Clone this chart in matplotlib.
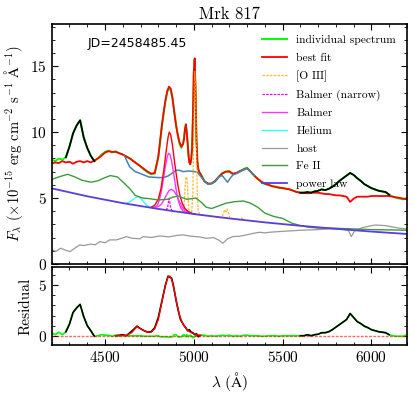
import numpy as np
import matplotlib
matplotlib.use("Agg")
import matplotlib.pyplot as plt
from matplotlib.ticker import MultipleLocator

plt.rcParams['font.family'] = 'serif'
plt.rcParams['font.serif'] = ['cmr10', 'DejaVu Serif']
plt.rcParams['mathtext.fontset'] = 'cm'
plt.rcParams['axes.formatter.use_mathtext'] = True
plt.rcParams['axes.unicode_minus'] = False

# wavelength grid of the spectrum (Angstrom)
wave = np.concatenate([np.arange(4200, 4781, 20), np.arange(4790, 4941, 10),
                       np.arange(4945, 5031, 5), [5040], np.arange(5060, 6201, 20)])

# observed flux
flux = [7.9, 7.8, 8.0, 7.9, 8.1, 8.9, 9.9, 10.5, 10.9, 9.6, 8.8, 8.2, 7.8, 8.0, 8.3,
        8.5, 8.6, 8.45, 8.55, 8.4, 8.3, 8.15, 8.0, 7.8, 7.6, 7.4, 7.15, 6.95, 6.8, 6.85,
        7.5, 8.1, 9.2, 10.4, 11.4, 12.3, 13.0, 13.3, 13.2, 12.5, 11.6, 10.6, 9.7, 9.1, 8.8, 9.2,
        9.6, 10.2, 10.5, 10.1, 9.2, 8.2, 7.7, 7.6, 7.9, 8.6, 11.0, 14.5, 15.5, 13.0, 9.5, 7.8, 7.2, 7.0,
        6.8,
        6.3, 6.05, 6.1, 6.25, 6.6, 6.9, 7.0, 7.05, 6.8, 6.9, 7.0, 7.2, 7.3, 7.0, 6.7, 6.45, 6.2, 6.05,
        6.0, 5.9, 5.85, 5.75, 5.75, 5.7, 5.65, 5.55, 5.45, 5.4, 5.4, 5.45, 5.4, 5.5, 5.55, 5.65,
        5.6, 5.7, 5.85, 6.05, 6.3, 6.5, 6.7, 6.9, 6.75, 6.5, 6.3, 6.05, 5.9, 5.75, 5.65, 5.55,
        5.5, 5.45, 5.25, 5.1, 5.0, 4.95, 4.9, 5.0]

# best fit
fit = [7.6, 7.7, 7.65, 7.8, 7.7, 7.75, 7.6, 7.75, 7.8, 7.7, 7.8, 7.7, 7.85, 8.0, 8.2,
       8.45, 8.55, 8.5, 8.5, 8.4, 8.3, 8.15, 8.0, 7.8, 7.6, 7.4, 7.2, 7.0, 6.85, 6.9,
       7.5, 8.1, 9.3, 10.5, 11.5, 12.4, 13.1, 13.45, 13.3, 12.6, 11.5, 10.5, 9.8, 9.2, 8.9, 9.1,
       9.5, 10.2, 10.6, 10.0, 9.2, 8.3, 7.7, 7.55, 7.9, 8.7, 11.2, 14.6, 15.6, 13.0, 9.4, 7.8, 7.2, 7.0,
       6.75,
       6.25, 6.1, 6.1, 6.3, 6.6, 6.85, 7.0, 7.0, 6.85, 6.9, 7.05, 7.15, 7.25, 7.0, 6.7, 6.45, 6.25, 6.1,
       6.0, 5.9, 5.85, 5.8, 5.75, 5.7, 5.65, 5.55, 5.45, 5.4, 5.4, 5.35, 5.4, 5.4, 5.4, 5.35,
       5.3, 5.3, 5.25, 5.2, 5.2, 5.15, 5.1, 4.7, 4.95, 5.1, 5.1, 5.1, 5.1, 5.15, 5.15, 5.15,
       5.15, 5.15, 5.15, 5.1, 5.05, 5.0, 4.95, 4.9]

# masked windows (drawn in black)
masks = [(4265, 4445), (5590, 6105)]

# spectrum with broad lines removed (steel blue)
sub_wave = [4610, 4625, 4640, 4670, 4700, 4745, 4800, 4830, 4855, 4880, 4900, 4920, 4940, 4970,
            5005, 5020, 5035, 5050, 5065, 5080, 5100, 5120, 5140, 5160, 5175, 5190, 5205,
            5220, 5240, 5260, 5280, 5300, 5320, 5340]
sub_flux = [8.2, 7.75, 7.35, 7.0, 6.85, 6.6, 6.55, 6.55, 6.67, 6.9, 7.1, 7.1, 7.0, 7.05,
            7.0, 6.95, 6.7, 6.45, 6.2, 6.05, 6.1, 6.25, 6.6, 6.7, 6.45, 6.2, 6.5,
            6.75, 6.85, 7.0, 7.15, 7.25, 7.0, 6.7]

# [O III] (plus weak lines), on top of continuum
o3_wave = [4930, 4945, 4950, 4955, 4959, 4963, 4968, 4973, 4980, 4988, 4995, 5000, 5005, 5009,
           5014, 5019, 5025, 5035, 5150, 5160, 5168, 5175, 5182, 5188, 5195, 5202, 5215,
           5260, 5268, 5275, 5285]
o3_flux = [3.88, 4.3, 5.6, 6.5, 6.6, 6.3, 5.0, 4.1, 3.85, 3.9, 5.5, 10.5, 14.6, 13.8,
           9.5, 5.5, 4.0, 3.74, 3.5, 3.6, 3.9, 4.1, 3.95, 4.15, 3.9, 3.5, 3.43,
           3.33, 3.5, 3.42, 3.31]

# narrow Balmer
bn_wave = [4845, 4853, 4858, 4861, 4864, 4869, 4877]
bn_flux = [4.06, 4.3, 4.8, 4.95, 4.8, 4.3, 4.03]

# broad Balmer components
b1_wave = [4770, 4790, 4800, 4810, 4820, 4830, 4840, 4850, 4858, 4866, 4875, 4885, 4895,
           4905, 4915, 4925, 4940, 4960]
b1_flux = [4.23, 4.35, 4.6, 5.05, 5.7, 6.55, 7.4, 8.1, 8.4, 8.3, 7.8, 7.0, 6.1,
           5.3, 4.7, 4.3, 4.0, 3.87]
b2_wave = [4760, 4780, 4800, 4815, 4830, 4845, 4860, 4874, 4890, 4905, 4920, 4935, 4950,
           4970, 4990, 5010]
b2_flux = [4.3, 4.3, 4.35, 4.5, 4.8, 5.2, 5.55, 5.66, 5.5, 5.15, 4.7, 4.3, 4.05,
           3.9, 3.82, 3.76]
bsum_wave = [4760, 4780, 4800, 4815, 4830, 4845, 4855, 4862, 4870, 4880, 4890, 4900, 4910,
             4920, 4935, 4950, 4970, 4990, 5010]
bsum_flux = [4.3, 4.45, 4.9, 5.7, 7.0, 8.6, 9.6, 10.0, 9.8, 9.0, 7.9, 6.9, 6.0,
             5.3, 4.6, 4.2, 3.95, 3.83, 3.77]

# helium
he_wave = [4600, 4620, 4640, 4660, 4675, 4687, 4700, 4715, 4735, 4760, 4780]
he_flux = [4.62, 4.6, 4.72, 4.9, 5.05, 5.1, 5.0, 4.75, 4.45, 4.27, 4.22]

# host galaxy
host_wave = [4200, 4225, 4250, 4275, 4303, 4331, 4359, 4380, 4420, 4445, 4471, 4500, 4527,
             4565, 4595, 4621, 4650, 4696, 4715, 4760, 4808, 4860, 4900, 4939, 4980, 5030,
             5071, 5110, 5140, 5164, 5190, 5220, 5260, 5296, 5330, 5370, 5400, 5427, 5480,
             5540, 5600, 5651, 5700, 5764, 5830, 5870, 5887, 5905, 5950, 6000, 6025, 6080,
             6120, 6160, 6200]
host_flux = [1.05, 0.95, 1.19, 1.05, 0.93, 1.2, 1.44, 1.39, 1.5, 1.45, 1.69, 1.6, 1.82,
             1.82, 1.95, 2.07, 1.95, 1.9, 2.07, 2.0, 2.12, 2.05, 2.15, 2.2, 2.1, 2.05,
             1.94, 2.0, 1.8, 1.57, 1.9, 2.07, 2.1, 2.2, 2.3, 2.4, 2.35, 2.4, 2.45,
             2.5, 2.55, 2.58, 2.6, 2.65, 2.65, 2.55, 2.07, 2.5, 2.75, 2.9, 2.95, 2.9,
             2.8, 2.7, 2.65]

# Fe II (on top of power law)
fe_wave = [4200, 4240, 4290, 4330, 4370, 4420, 4460, 4500, 4530, 4570, 4610, 4640, 4670,
           4710, 4750, 4800, 4850, 4880, 4910, 4940, 4960, 4990, 5010, 5040, 5070, 5100,
           5140, 5180, 5230, 5280, 5320, 5360, 5400, 5450, 5500, 5550, 5600, 5650, 5700,
           5800, 5900, 6000, 6100, 6200]
fe_flux = [6.4, 6.6, 6.8, 6.6, 6.35, 6.2, 6.3, 6.55, 6.7, 6.6, 6.1, 5.7, 5.2,
           5.0, 4.95, 4.85, 4.9, 5.05, 5.15, 5.0, 4.9, 4.95, 5.0, 4.7, 4.3, 4.2,
           4.4, 4.6, 4.72, 4.77, 4.6, 4.3, 3.85, 3.6, 3.45, 3.1, 2.9, 2.78, 2.72,
           2.7, 2.65, 2.6, 2.58, 2.55]

# power law
pl_wave = [4200, 4400, 4600, 4800, 5000, 5200, 5400, 5600, 5800, 6000, 6200]
pl_flux = [5.73, 5.13, 4.61, 4.17, 3.78, 3.45, 3.15, 2.89, 2.66, 2.45, 2.27]

# residual panel: broad-line residual and its model
rb_wave = [4560, 4580, 4600, 4620, 4640, 4660, 4680, 4700, 4720, 4740, 4760, 4780, 4800,
           4820, 4840, 4855, 4865, 4875, 4885, 4895, 4905, 4915, 4925, 4935, 4945, 4955,
           4965, 4975, 4985, 4995, 5005, 5015, 5025, 5035]
rb_flux = [0.0, 0.05, 0.1, 0.0, 0.3, 0.6, 0.95, 0.7, 0.5, 0.35, 0.4, 0.8, 1.8,
           3.4, 5.0, 5.9, 5.8, 5.7, 5.0, 4.0, 3.1, 2.3, 1.6, 1.3, 1.0, 0.8,
           0.5, 0.6, 0.35, 0.3, 0.1, 0.2, -0.1, 0.0]
rm_wave = [4560, 4620, 4650, 4680, 4710, 4740, 4760, 4780, 4800, 4820, 4840, 4855, 4865,
           4875, 4890, 4905, 4920, 4935, 4950, 4965, 4980, 5000, 5020, 5040]
rm_flux = [0.0, 0.05, 0.3, 0.9, 0.6, 0.35, 0.35, 0.7, 1.6, 3.3, 5.0, 5.85, 5.9,
           5.6, 4.5, 3.1, 2.0, 1.3, 0.85, 0.55, 0.35, 0.2, 0.1, 0.05]

flux = np.array(flux)
fit = np.array(fit)
resid = flux - fit


def masked(x, y):
    out = np.full(len(y), np.nan)
    for lo, hi in masks:
        sel = (x >= lo) & (x <= hi)
        out[sel] = y[sel]
    return out


fig = plt.figure(figsize=(4.15, 3.95), dpi=100)
ax = fig.add_axes([0.1246, 0.332, 0.856, 0.607])
axr = fig.add_axes([0.1246, 0.127, 0.856, 0.197])

ax.plot(wave, flux, color='#00ff00', lw=1.4, label='individual spectrum')
ax.plot(wave, fit, color='red', lw=1.3, label='best fit')
ax.plot(wave, masked(wave, flux), color='k', lw=1.3)
ax.plot(sub_wave, sub_flux, color='#4682b4', lw=1.1)
ax.plot(o3_wave, o3_flux, color='orange', lw=0.9, ls='--', dashes=(2, 1), alpha=0.8, label='[O III]')
ax.plot(bn_wave, bn_flux, color='#ee00ee', lw=0.9, ls='--', dashes=(2, 1), label='Balmer (narrow)')
ax.plot(b1_wave, b1_flux, color='#ff33ff', lw=1.0, label='Balmer')
ax.plot(b2_wave, b2_flux, color='#ff33ff', lw=1.0)
ax.plot(bsum_wave, bsum_flux, color='red', lw=1.0)
ax.plot(he_wave, he_flux, color='#33ffff', lw=1.0, label='Helium')
ax.plot(host_wave, host_flux, color='#999999', lw=0.9, label='host')
ax.plot(fe_wave, fe_flux, color='#3c9c3c', lw=1.0, label='Fe II')
ax.plot(pl_wave, pl_flux, color='#5b3ddc', lw=1.3, label='power law')

ax.set_xlim(4200, 6200)
ax.set_ylim(0, 18.2)
ax.set_title('Mrk 817', fontsize=12, pad=4)
ax.set_ylabel(r'$F_\lambda$ ($\times 10^{-15}$ erg cm$^{-2}$ s$^{-1}$ $\mathrm{\AA}^{-1}$)', fontsize=10.5)
ax.text(0.1, 0.917, 'JD=2458485.45', transform=ax.transAxes, fontsize=9,
        family='DejaVu Sans', ha='left', va='center')
leg = ax.legend(loc='upper right', fontsize=8.3, frameon=False, labelspacing=0.66,
                handlelength=2.2, borderaxespad=0.55)
ax.tick_params(labelbottom=False)

axr.plot(wave, resid, color='#00ff00', lw=1.2)
axr.plot(wave, masked(wave, resid), color='k', lw=1.2)
axr.plot(rb_wave, rb_flux, color='k', lw=1.2)
axr.plot(rm_wave, rm_flux, color='red', lw=1.0)
axr.axhline(0, color='red', lw=1.0, ls='--', dashes=(2, 1), alpha=0.6)
axr.set_xlim(4200, 6200)
axr.set_ylim(-0.9, 6.8)
axr.set_ylabel('Residual', fontsize=11)
axr.set_xlabel(r'$\lambda$ ($\mathrm{\AA}$)', fontsize=11)

for a in (ax, axr):
    a.xaxis.set_major_locator(MultipleLocator(500))
    a.xaxis.set_minor_locator(MultipleLocator(100))
    a.yaxis.set_major_locator(MultipleLocator(5))
    a.yaxis.set_minor_locator(MultipleLocator(1))
    a.tick_params(which='both', direction='in', top=True, right=True, labelsize=11)
    a.tick_params(which='major', length=4)
    a.tick_params(which='minor', length=2)
    for s in a.spines.values():
        s.set_linewidth(1.2)

fig.savefig('out.png', dpi=100)
